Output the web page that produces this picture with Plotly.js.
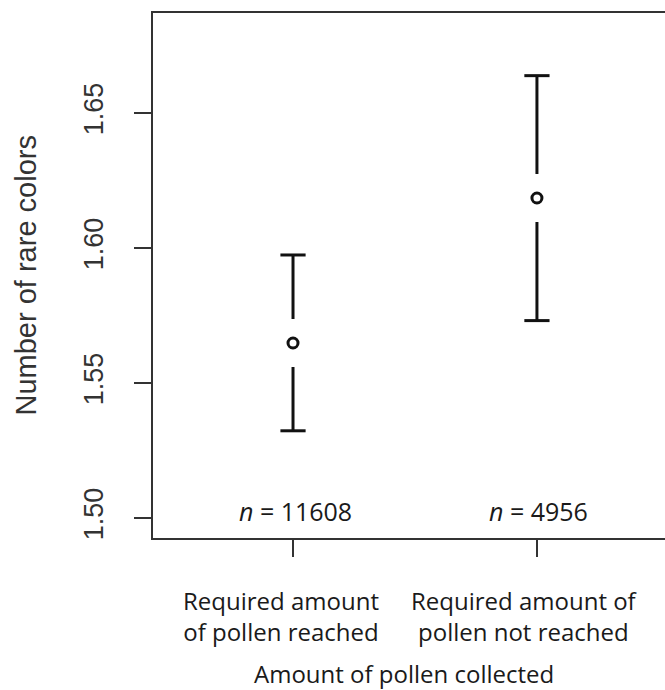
<!DOCTYPE html>
<html>
<head>
<meta charset="utf-8">
<script src="https://cdn.plot.ly/plotly-3.0.1.min.js"></script>
<style>html,body{margin:0;padding:0;background:#fff;}</style>
</head>
<body>
<div id="chart" style="width:665px;height:690px;"></div>
<script>
// ---- data ----
const categories = ["Required amount<br>of pollen reached", "Required amount of<br>pollen not reached"];
const xPos = [1, 2];
const means = [1.5648, 1.6185];
const upper = [1.5974, 1.6638];
const lower = [1.5323, 1.5731];
const nLabels = ["<i>n</i> = 11608", "<i>n</i> = 4956"];
const yTickVals = [1.50, 1.55, 1.60, 1.65];
const yTickText = ["1.50", "1.55", "1.60", "1.65"];
const yTitle = "Number of rare colors";
const xTitle = "Amount of pollen collected";

// ---- layout geometry ----
const W = 665, H = 690;
const margin = {l: 153, r: 0, t: 13, b: 152};
const yRange = [1.4926, 1.6870];
const xRange = [0.426, 2.525];
const plotH = H - margin.t - margin.b;
const gapPx = 24;
const gap = gapPx * (yRange[1] - yRange[0]) / plotH;

const barColor = "#111";
const upX = [], upY = [], loX = [], loY = [];
xPos.forEach((x, i) => {
  upX.push(x, x, null); upY.push(upper[i], means[i] + gap, null);
  loX.push(x, x, null); loY.push(means[i] - gap, lower[i], null);
});

const traces = [
  {x: upX, y: upY, mode: "lines", line: {color: barColor, width: 3}, hoverinfo: "skip", showlegend: false},
  {x: loX, y: loY, mode: "lines", line: {color: barColor, width: 3}, hoverinfo: "skip", showlegend: false},
  {x: xPos.concat(xPos), y: upper.concat(lower), mode: "markers",
   marker: {symbol: "line-ew", size: 18, line: {color: barColor, width: 3}}, showlegend: false},
  {x: xPos, y: means, mode: "markers",
   marker: {symbol: "circle-open", size: 10, color: barColor, line: {color: barColor, width: 3}}, showlegend: false}
];

const bottomFont = {family: "Open Sans, Noto Sans, sans-serif", size: 24, color: "#1a1a1a"};
const annotations = [];
xPos.forEach((x, i) => {
  annotations.push({x: x, y: 1.5025, xref: "x", yref: "y", text: nLabels[i], showarrow: false,
    font: Object.assign({}, bottomFont, {size: 25}), xanchor: "center", yanchor: "middle", xshift: 2});
  annotations.push({x: x, y: 0, xref: "x", yref: "paper", text: categories[i], showarrow: false,
    font: bottomFont, xanchor: "center", yanchor: "middle",
    yshift: -78, xshift: -12, align: "center"});
});
annotations.push({x: 0.5, y: 0, xref: "paper", yref: "paper", text: xTitle, showarrow: false,
  font: bottomFont, xanchor: "center", yanchor: "middle",
  yshift: -135, xshift: -5});
annotations.push({x: 0, y: 0.5, xref: "paper", yref: "paper", text: yTitle, showarrow: false,
  textangle: -90, font: {family: "Liberation Sans, Arial, sans-serif", size: 29, color: "#333"},
  xanchor: "center", yanchor: "middle", xshift: -128, yshift: 0});

const layout = {
  width: W, height: H, margin: margin,
  paper_bgcolor: "#fff", plot_bgcolor: "#fff",
  showlegend: false,
  font: {family: "Liberation Sans, Arial, sans-serif", color: "#333"},
  xaxis: {range: xRange, tickvals: xPos, showticklabels: false,
    ticks: "outside", ticklen: 17, tickwidth: 2, tickcolor: "#333",
    showline: true, linecolor: "#333", linewidth: 2, mirror: true,
    showgrid: false, zeroline: false, fixedrange: true},
  yaxis: {range: yRange, tickvals: yTickVals, ticktext: yTickText, tickangle: -90,
    ticks: "outside", ticklen: 17, tickwidth: 2, tickcolor: "#333",
    tickfont: {size: 27, color: "#333"}, ticklabelstandoff: 20,
    showline: true, linecolor: "#333", linewidth: 2, mirror: false,
    showgrid: false, zeroline: false, fixedrange: true},
  annotations: annotations
};

Plotly.newPlot("chart", traces, layout, {displayModeBar: false, staticPlot: true});
</script>
</body>
</html>
